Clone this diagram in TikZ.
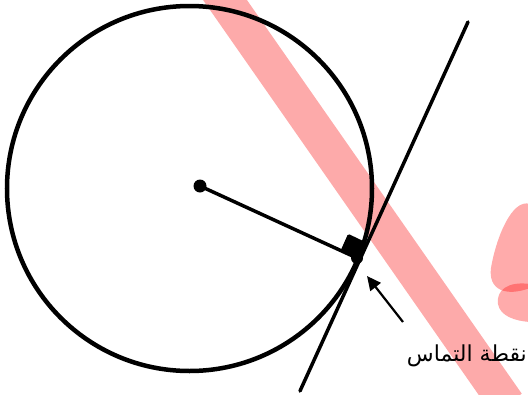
\documentclass[tikz,border=0pt]{standalone}
\usepackage{fontspec}
\newfontfamily\arabicfont[Script=Arabic]{DejaVu Sans}
\TeXXeTstate=1
\usetikzlibrary{arrows.meta}
\definecolor{hl}{RGB}{253,170,170}
\tikzset{
  thick line/.style={line width=3.5pt, line cap=round},
  dotmark/.style={fill=black},
  blob/.style={fill=red, fill opacity=0.33},
  label text/.style={font=\arabicfont\fontsize{22}{26}\selectfont, inner sep=0pt}
}
\begin{document}
\begin{tikzpicture}[x=1pt,y=-1pt]
\useasboundingbox (0,0) rectangle (528,394);
\begin{scope}
  \clip (0,0) rectangle (528,394);
  % highlighter band
  \coordinate (B1) at (218,-10);
  \coordinate (B2) at (507,404);
  \draw[hl, line width=36pt] (B1) -- (B2);
  % blobs at right edge
  \fill[blob] (530,204) .. controls (512,198) and (496,238) .. (491,268)
     .. controls (488,290) and (506,297) .. (530,288) -- cycle;
  \fill[blob] (530,284) .. controls (508,281) and (496,290) .. (498,304)
     .. controls (500,316) and (515,321) .. (530,322) -- cycle;
\end{scope}
% circle
\coordinate (C) at (189.5,188.5);
\draw[line width=4.5pt] (C) circle [radius=182.5pt];
% points
\coordinate (O) at (200,186);
\coordinate (P) at (357,258);
\coordinate (T1) at (300,391);
\coordinate (T2) at (468,22);
% radius and tangent
\draw[thick line] (O) -- (P);
\draw[thick line] (T1) -- (T2);
% right angle mark
\fill[rounded corners=1.5pt] (357,258) -- (340.7,250.4) -- (348.1,233.8) -- (364.4,241.6) -- cycle;
% dots
\fill[dotmark] (O) circle [radius=6.5pt];
\fill[dotmark] (P) circle [radius=6pt];
% label and arrow
\node[label text, anchor=base east] (lbl) at (527,361) {\beginR نقطة التماس\endR};
\coordinate (A1) at (403,322);
\coordinate (A2) at (367,276);
\draw[line width=2.2pt, -{Triangle[length=14pt,width=13pt]}] (A1) -- (A2);
\end{tikzpicture}
\end{document}
